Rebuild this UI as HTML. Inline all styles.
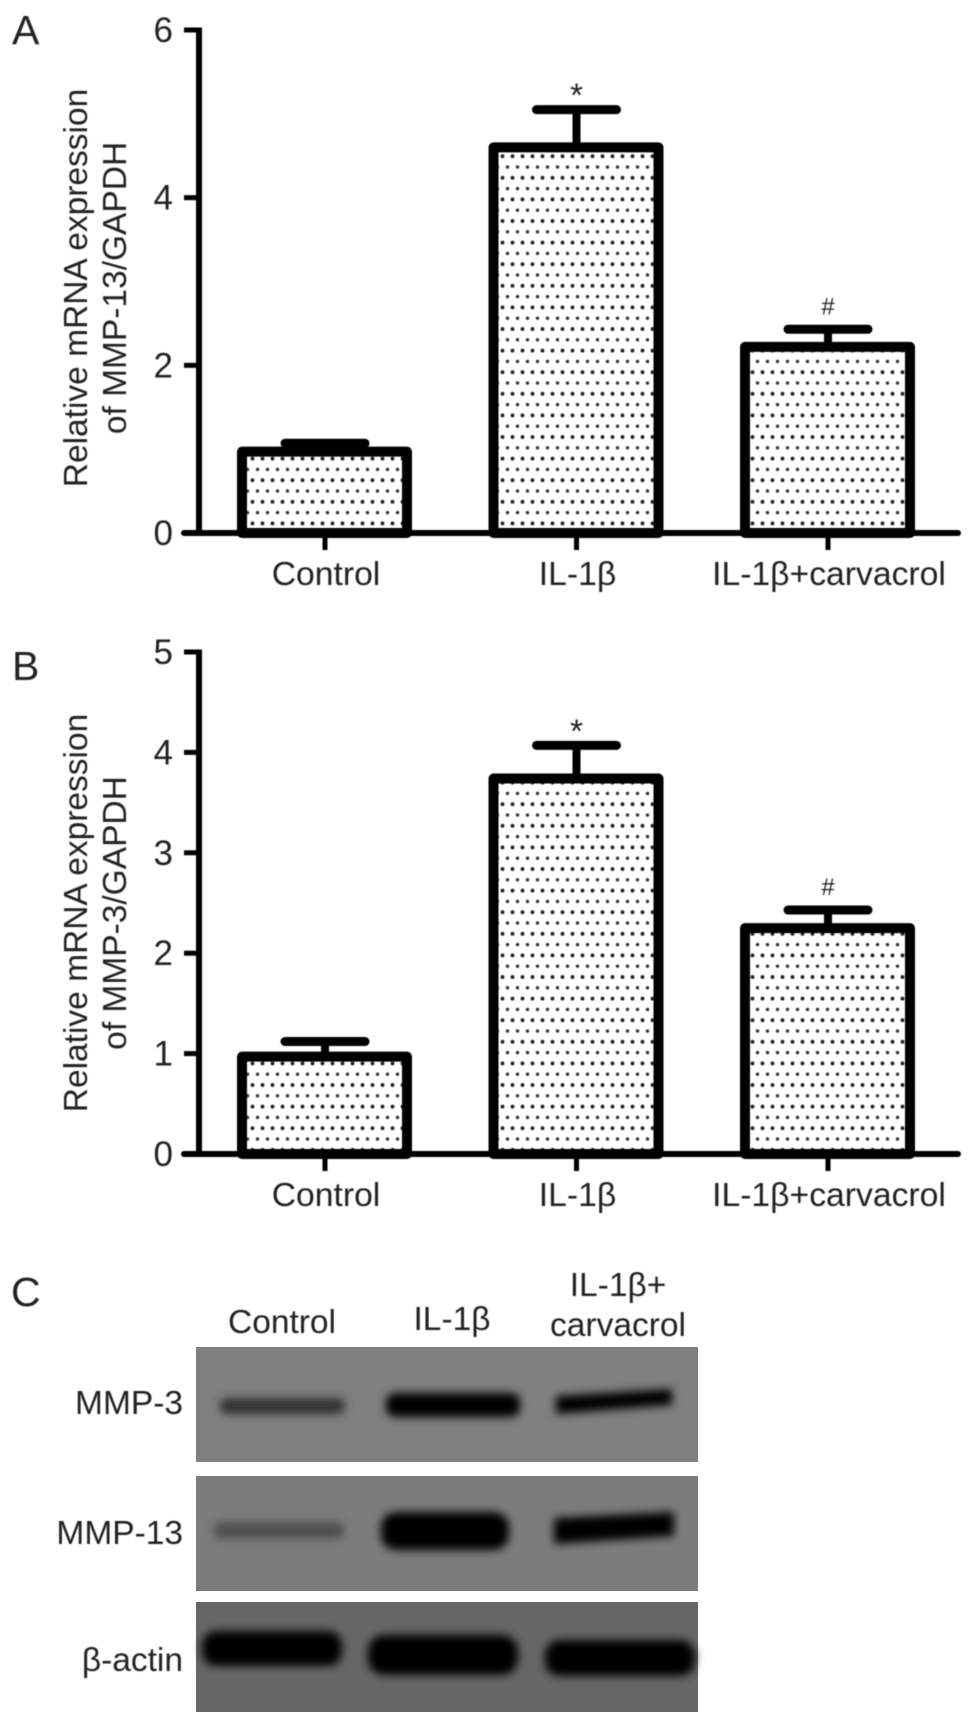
<!DOCTYPE html>
<html lang="en">
<head>
<meta charset="utf-8">
<title>MMP expression figure</title>
<style>
html,body{margin:0;padding:0;background:#fff;}
svg{display:block;}
text{font-family:"Liberation Sans",sans-serif;fill:#222;}
</style>
</head>
<body>
<svg id="fig" xmlns="http://www.w3.org/2000/svg" width="969" height="1726" viewBox="0 0 969 1726">
<defs>
<pattern id="dots" patternUnits="userSpaceOnUse" width="10" height="21.6" x="0" y="0">
<circle cx="2.5" cy="5" r="1.9" fill="#222"/>
<circle cx="7.5" cy="15.8" r="1.7" fill="#333"/>
</pattern>
<filter id="soft" x="-2%" y="-2%" width="104%" height="104%"><feGaussianBlur stdDeviation="0.65"/></filter>
<filter id="b3" x="-20%" y="-150%" width="140%" height="400%"><feGaussianBlur stdDeviation="4.5"/></filter>
</defs>
<g id="charts" filter="url(#soft)"></g>

<g>
<g>
<rect x="196" y="1347" width="502" height="115" fill="#808080"/>
<rect x="220" y="1398" width="125" height="16" rx="7" fill="#333" filter="url(#b3)"/>
<rect x="386" y="1393" width="134" height="24" rx="9" fill="#000" filter="url(#b3)"/>
<path d="M556 1396 L672 1389 L672 1405 L556 1414 Z" fill="#000" filter="url(#b3)"/>
</g>
<g>
<rect x="196" y="1476" width="502" height="115" fill="#7c7c7c"/>
<rect x="214" y="1522" width="130" height="17" rx="7" fill="#505050" filter="url(#b3)"/>
<rect x="381" y="1512" width="128" height="38" rx="15" fill="#000" filter="url(#b3)"/>
<path d="M554 1518 L674 1512 L674 1536 L554 1544 Z" fill="#000" filter="url(#b3)"/>
</g>
<g>
<rect x="196" y="1602" width="502" height="110" fill="#666666"/>
<rect x="202" y="1631" width="140" height="35" rx="14" fill="#000" filter="url(#b3)"/>
<rect x="368" y="1635" width="150" height="40" rx="16" fill="#000" filter="url(#b3)"/>
<rect x="545" y="1640" width="150" height="36" rx="15" fill="#000" filter="url(#b3)"/>
</g>
<g filter="url(#soft)">
<text x="11" y="1306" font-size="41">C</text>
<text x="282" y="1333" font-size="33.5" text-anchor="middle">Control</text>
<text x="452" y="1330" font-size="33.5" text-anchor="middle">IL-1β</text>
<text x="618" y="1296" font-size="33.5" text-anchor="middle">IL-1β+</text>
<text x="618" y="1336" font-size="33.5" text-anchor="middle">carvacrol</text>
<text x="183" y="1414" font-size="33.5" text-anchor="end">MMP-3</text>
<text x="183" y="1544" font-size="33.5" text-anchor="end">MMP-13</text>
<text x="183" y="1671" font-size="33.5" text-anchor="end">β-actin</text>
</g>
</g>
</svg>
<script>
var categories = ["Control", "IL-1β", "IL-1β+carvacrol"];
var panelATicks = [0, 2, 4, 6];
var panelAValues = [0.97, 4.6, 2.22];
var panelAErrorTops = [1.07, 5.05, 2.43];
var panelAMarks = ["", "*", "#"];
var panelBTicks = [0, 1, 2, 3, 4, 5];
var panelBValues = [0.97, 3.74, 2.25];
var panelBErrorTops = [1.12, 4.07, 2.43];
var panelBMarks = ["", "*", "#"];

var NS = "http://www.w3.org/2000/svg";
var root = document.getElementById("charts");

function make(parent, tag, attrs, text) {
  var el = document.createElementNS(NS, tag);
  for (var k in attrs) { el.setAttribute(k, attrs[k]); }
  if (text !== undefined) { el.textContent = text; }
  parent.appendChild(el);
  return el;
}

function drawChart(prefix, box, ticks, values, errorTops, marks, letter, titleLines) {
  var group = make(root, "g", {});
  
  
  var yMax = ticks[ticks.length - 1];
  function yScale(v) { return box.y0 + (box.yTop - box.y0) * v / yMax; }
  function xScale(i) { return box.xFirst + box.xStep * i; }

  var panelLabel = make(group, "text", {x: 12, y: box.letterY, "font-size": 41}, letter);
  
  

  titleLines.forEach(function (line, i) {
    var tx = box.titleX[i];
    var t = make(group, "text", {
      x: tx, y: box.titleY, "font-size": 33.5, "text-anchor": "middle",
      transform: "rotate(-90 " + tx + " " + box.titleY + ")"
    }, line);
    
    
  });

  categories.forEach(function (cat, i) {
    var cx = xScale(i);
    var top = yScale(values[i]);
    var capY = yScale(errorTops[i]);
    var stem = make(group, "line", {x1: cx, x2: cx, y1: top, y2: capY, stroke: "#000", "stroke-width": 8});
    
    
    var cap = make(group, "line", {x1: cx - 40, x2: cx + 40, y1: capY, y2: capY, stroke: "#000", "stroke-width": 9, "stroke-linecap": "round"});
    
    
    var bar = make(group, "rect", {
      x: cx - 83, y: top, width: 165, height: box.y0 - top,
      fill: "url(#dots)", stroke: "#000", "stroke-width": 10, "stroke-linejoin": "round"
    });
    
    
    var tick = make(group, "line", {x1: cx, x2: cx, y1: box.y0, y2: box.y0 + 17, stroke: "#000", "stroke-width": 5});
    
    
    var label = make(group, "text", {x: cx + 1, y: box.y0 + 52, "font-size": 33.7, "text-anchor": "middle"}, cat);
    
    
    if (marks[i]) {
      var isStar = marks[i] === "*";
      var sig = make(group, "text", {
        x: cx, y: capY + (isStar ? -3 : -15), "font-size": isStar ? 33 : 24, "text-anchor": "middle"
      }, marks[i]);
      
      
    }
  });

  var yAxis = make(group, "line", {x1: box.xAxis, x2: box.xAxis, y1: box.yTop - 2.5, y2: box.y0, stroke: "#000", "stroke-width": 6});
  
  
  var xAxis = make(group, "line", {x1: box.xAxis - 15, x2: box.xEnd, y1: box.y0, y2: box.y0, stroke: "#000", "stroke-width": 6, "stroke-linecap": "round"});
  
  

  ticks.forEach(function (v) {
    var ty = yScale(v);
    var tick = make(group, "line", {x1: box.xAxis - 15, x2: box.xAxis, y1: ty, y2: ty, stroke: "#000", "stroke-width": 5});
    
    
    var label = make(group, "text", {x: box.xAxis - 26, y: ty + 12, "font-size": 35, "text-anchor": "end"}, String(v));
    
    
  });
}

drawChart("mmp13", {
  xAxis: 199, xEnd: 958, y0: 533, yTop: 30, xFirst: 325, xStep: 251.5,
  letterY: 44, titleX: [87, 126], titleY: 288
}, panelATicks, panelAValues, panelAErrorTops, panelAMarks, "A",
  ["Relative mRNA expression", "of MMP-13/GAPDH"]);

drawChart("mmp3", {
  xAxis: 199, xEnd: 958, y0: 1154, yTop: 652, xFirst: 325, xStep: 251.5,
  letterY: 680, titleX: [87, 126], titleY: 913
}, panelBTicks, panelBValues, panelBErrorTops, panelBMarks, "B",
  ["Relative mRNA expression", "of MMP-3/GAPDH"]);
</script>
</body>
</html>
